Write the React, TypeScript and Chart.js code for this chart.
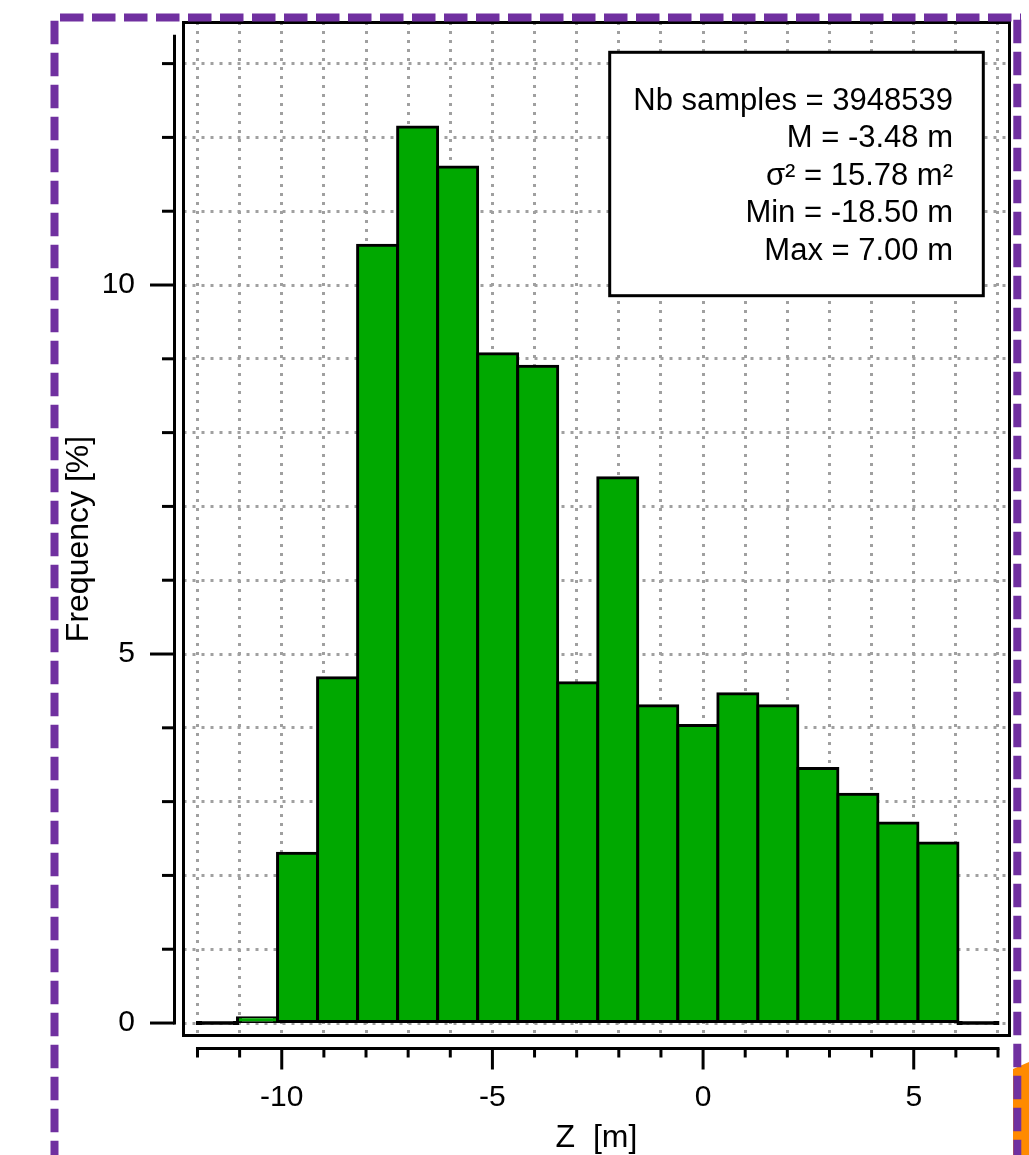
import React, { useEffect, useRef } from 'react';
import { Chart, registerables } from 'chart.js';

Chart.register(...registerables);

// ---- data ----
const binCenters = [
  -11.525, -10.575, -9.625, -8.675, -7.725, -6.775, -5.825, -4.875, -3.925, -2.975,
  -2.025, -1.075, -0.125, 0.825, 1.775, 2.725, 3.675, 4.625, 5.575, 6.525,
];
const frequencies = [
  0, 0.07, 2.3, 4.68, 10.54, 12.14, 11.6, 9.07, 8.9, 4.61,
  7.39, 4.3, 4.03, 4.46, 4.3, 3.45, 3.1, 2.71, 2.44, 0,
];
const xTickValues = [-12, -11, -10, -9, -8, -7, -6, -5, -4, -3, -2, -1, 0, 1, 2, 3, 4, 5, 6, 7];
const xLabelValues = [-10, -5, 0, 5];
const yTickValues = [0, 1, 2, 3, 4, 5, 6, 7, 8, 9, 10, 11, 12, 13];
const yLabelValues = [0, 5, 10];
const statsLines = [
  'Nb samples = 3948539',
  'M = -3.48 m',
  'σ² = 15.78 m²',
  'Min = -18.50 m',
  'Max = 7.00 m',
];
const xTitle = 'Z  [m]';
const yTitle = 'Frequency [%]';

// axis ranges
const xMin = -12.332;
const xMax = 7.273;
const yMin = -0.169;
const yMax = 13.557;
const yAxisTop = 13.39;

const FONT = '"Liberation Sans", Arial, sans-serif';
const GREEN = '#00a800';
const GRID = '#a0a0a0';
const PURPLE = '#7030a0';
const ORANGE = '#ff8a00';

const decorPlugin = {
  id: 'decor',
  beforeDraw(chart: any) {
    const ctx = chart.ctx;
    ctx.save();
    ctx.fillStyle = '#ffffff';
    ctx.fillRect(0, 0, chart.width, chart.height);
    ctx.restore();
  },
  afterDraw(chart: any) {
    const { ctx, chartArea, scales } = chart;
    const xs = scales.x;
    const ys = scales.y;
    ctx.save();

    // plot frame
    ctx.strokeStyle = '#000';
    ctx.lineWidth = 3;
    ctx.setLineDash([]);
    ctx.strokeRect(
      chartArea.left,
      chartArea.top,
      chartArea.right - chartArea.left,
      chartArea.bottom - chartArea.top
    );

    // detached y axis
    const yAxisX = chartArea.left - 9;
    ctx.beginPath();
    ctx.moveTo(yAxisX, ys.getPixelForValue(yAxisTop));
    ctx.lineTo(yAxisX, ys.getPixelForValue(0) + 1.5);
    ctx.stroke();
    for (const v of yTickValues) {
      const py = ys.getPixelForValue(v);
      const len = yLabelValues.includes(v) ? 24.5 : 12.5;
      ctx.beginPath();
      ctx.moveTo(yAxisX - len, py);
      ctx.lineTo(yAxisX, py);
      ctx.stroke();
    }

    // detached x axis
    const xAxisY = chartArea.bottom + 13;
    ctx.beginPath();
    ctx.moveTo(xs.getPixelForValue(xTickValues[0]) - 1.5, xAxisY);
    ctx.lineTo(xs.getPixelForValue(xTickValues[xTickValues.length - 1]) + 1.5, xAxisY);
    ctx.stroke();
    for (const v of xTickValues) {
      const px = xs.getPixelForValue(v);
      const len = xLabelValues.includes(v) ? 21 : 9;
      ctx.beginPath();
      ctx.moveTo(px, xAxisY);
      ctx.lineTo(px, xAxisY + len);
      ctx.stroke();
    }

    // y axis title
    ctx.save();
    ctx.translate(79, 539);
    ctx.rotate(-Math.PI / 2);
    ctx.fillStyle = '#000';
    ctx.font = `32px ${FONT}`;
    ctx.textAlign = 'center';
    ctx.textBaseline = 'middle';
    ctx.fillText(yTitle, 0, 0);
    ctx.restore();

    // statistics box
    const bx = 609.7, by = 52.3, bw = 373.6, bh = 243.4;
    ctx.fillStyle = '#fff';
    ctx.fillRect(bx, by, bw, bh);
    ctx.strokeStyle = '#000';
    ctx.lineWidth = 3;
    ctx.strokeRect(bx, by, bw, bh);
    ctx.fillStyle = '#000';
    ctx.font = `31px ${FONT}`;
    ctx.textAlign = 'right';
    ctx.textBaseline = 'alphabetic';
    statsLines.forEach((line, i) => {
      ctx.fillText(line, 953, 109.5 + i * 37.6);
    });

    // orange shape at the bottom right
    ctx.fillStyle = ORANGE;
    ctx.beginPath();
    ctx.moveTo(1013, 1069);
    ctx.lineTo(1029, 1062);
    ctx.lineTo(1029, 1155);
    ctx.lineTo(1013, 1155);
    ctx.closePath();
    ctx.fill();

    // purple dashed frame
    ctx.strokeStyle = PURPLE;
    ctx.lineWidth = 8;
    ctx.lineCap = 'butt';
    ctx.setLineDash([23.5, 8.5]);
    ctx.beginPath();
    ctx.moveTo(60, 17.5);
    ctx.lineTo(1021, 17.5);
    ctx.stroke();
    ctx.beginPath();
    ctx.moveTo(54.5, 20.7);
    ctx.lineTo(54.5, 1160);
    ctx.stroke();
    ctx.beginPath();
    ctx.moveTo(1017.3, 19.7);
    ctx.lineTo(1017.3, 1160);
    ctx.stroke();

    ctx.restore();
  },
};

export default function App() {
  const ref = useRef<HTMLCanvasElement>(null);

  useEffect(() => {
    if (!ref.current) return;
    const chart = new Chart(ref.current, {
      type: 'bar',
      data: {
        datasets: [
          {
            label: 'Frequency',
            data: binCenters.map((c, i) => ({ x: c, y: frequencies[i] })),
            backgroundColor: (c: any) => (frequencies[c.dataIndex] === 0 ? '#000' : GREEN),
            borderColor: '#000',
            borderWidth: 3,
            borderSkipped: false,
            barPercentage: 1,
            categoryPercentage: 1,
            minBarLength: 1,
            inflateAmount: 1.5,
          } as any,
        ],
      },
      options: {
        responsive: false,
        animation: false,
        events: [],
        layout: { padding: { left: 0, right: 19.5, top: 22.5, bottom: 0 } },
        plugins: {
          legend: { display: false },
          tooltip: { enabled: false },
          title: { display: false },
        },
        scales: {
          x: {
            type: 'linear',
            position: 'bottom',
            min: xMin,
            max: xMax,
            bounds: 'data',
            offset: false,
            afterBuildTicks: (s: any) => {
              s.ticks = xTickValues.map((v) => ({ value: v }));
            },
            afterFit: (s: any) => {
              s.height = 119.5;
              s.paddingLeft = 0;
              s.paddingRight = 0;
              s.paddingTop = 0;
              s.paddingBottom = 0;
            },
            grid: { display: true, offset: false, drawOnChartArea: true, drawTicks: false, color: GRID, lineWidth: 3 },
            border: { display: false, dash: [3, 6], dashOffset: 0.5 },
            ticks: {
              autoSkip: false,
              maxRotation: 0,
              minRotation: 0,
              padding: 44.5,
              color: '#000',
              font: { family: FONT, size: 30 },
              callback: (v: any) => (xLabelValues.includes(Number(v)) ? String(v) : ''),
            },
            title: {
              display: true,
              text: xTitle,
              color: '#000',
              font: { family: FONT, size: 32, lineHeight: 1 },
              padding: { top: 0, bottom: 1 },
            },
          },
          y: {
            type: 'linear',
            position: 'left',
            min: yMin,
            max: yMax,
            bounds: 'data',
            afterBuildTicks: (s: any) => {
              s.ticks = yTickValues.map((v) => ({ value: v }));
            },
            afterFit: (s: any) => {
              s.width = 183.5;
              s.paddingLeft = 0;
              s.paddingRight = 0;
              s.paddingTop = 0;
              s.paddingBottom = 0;
            },
            grid: { display: true, drawOnChartArea: true, drawTicks: false, color: GRID, lineWidth: 3 },
            border: { display: false, dash: [3, 6], dashOffset: 0.5 },
            ticks: {
              autoSkip: false,
              padding: 48.5,
              color: '#000',
              font: { family: FONT, size: 30 },
              callback: (v: any) => (yLabelValues.includes(Number(v)) ? String(v) : ''),
            },
            title: { display: false },
          },
        },
      } as any,
      plugins: [decorPlugin],
    });
    return () => chart.destroy();
  }, []);

  return (
    <div style={{ position: 'absolute', left: 0, top: 0, width: 1029, height: 1155 }}>
      <canvas
        ref={ref}
        width={1029}
        height={1155}
        style={{ display: 'block', width: 1029, height: 1155 }}
      />
    </div>
  );
}
